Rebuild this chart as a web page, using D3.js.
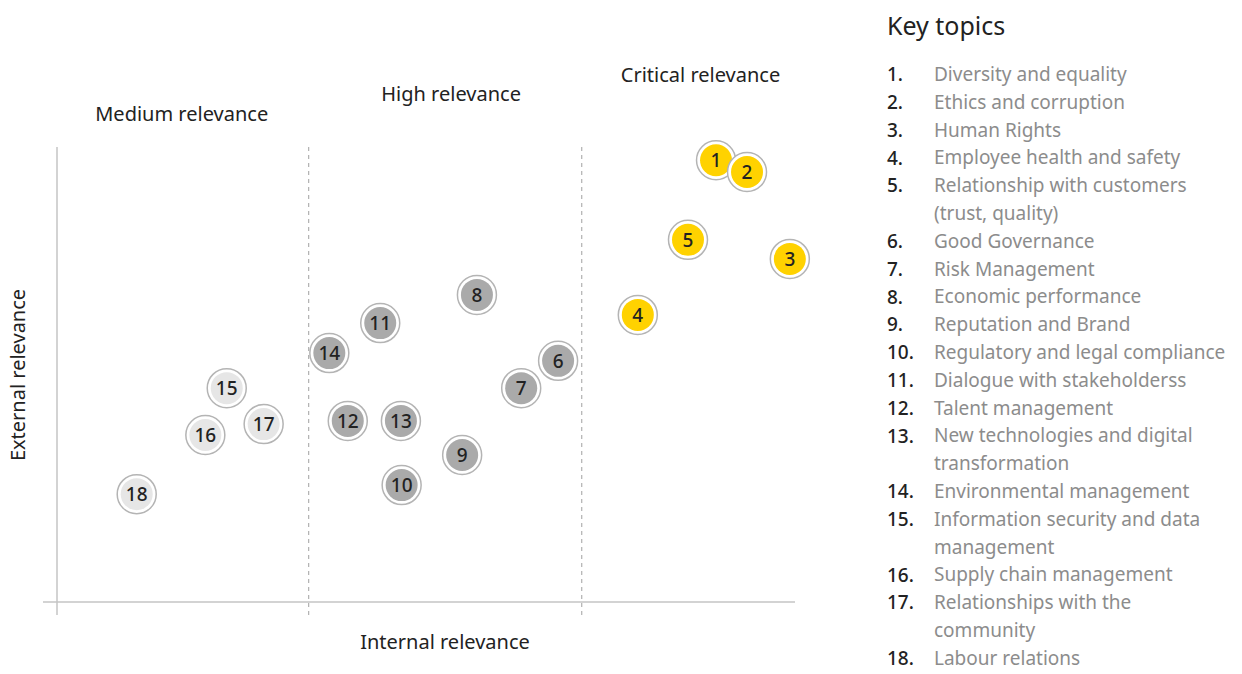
<!DOCTYPE html>
<html>
<head>
<meta charset="utf-8">
<title>Materiality matrix</title>
<script src="https://cdn.jsdelivr.net/npm/d3@7"></script>
<style>
  body { margin: 0; background: #fff; font-family: "Noto Sans", Roboto, sans-serif; overflow: hidden; }
  svg { display: block; }
</style>
</head>
<body>
<svg id="chart" width="1242" height="674"></svg>
<script>
// topic numbers, internal (x) and external (y) relevance (0-100)
var topicIds   = [1, 2, 3, 4, 5, 6, 7, 8, 9, 10, 11, 12, 13, 14, 15, 16, 17, 18];
var internal   = [89.3, 93.5, 99.3, 78.7, 85.5, 67.9, 62.9, 56.9, 54.9, 46.7, 43.8, 39.4, 46.6, 36.9, 23.0, 20.1, 28.0, 10.8];
var external   = [97.1, 94.5, 75.4, 63.1, 79.6, 53.0, 47.0, 67.5, 32.3, 25.7, 61.3, 39.8, 39.8, 54.7, 47.0, 36.7, 39.1, 23.7];
var tier       = ["critical", "critical", "critical", "critical", "critical",
                  "high", "high", "high", "high", "high", "high", "high", "high", "high",
                  "medium", "medium", "medium", "medium"];

// zone boundaries on internal relevance and zone titles
var dividers   = [34.1, 71.1];
var zoneNames  = ["Medium relevance", "High relevance", "Critical relevance"];
var zoneCenter = [16.9, 53.4, 87.2];
var zoneTitleY = [107, 111.2, 115.4];

var topicLines = [
  ["Diversity and equality"],
  ["Ethics and corruption"],
  ["Human Rights"],
  ["Employee health and safety"],
  ["Relationship with customers", "(trust, quality)"],
  ["Good Governance"],
  ["Risk Management"],
  ["Economic performance"],
  ["Reputation and Brand"],
  ["Regulatory and legal compliance"],
  ["Dialogue with stakeholderss"],
  ["Talent management"],
  ["New technologies and digital", "transformation"],
  ["Environmental management"],
  ["Information security and data", "management"],
  ["Supply chain management"],
  ["Relationships with the", "community"],
  ["Labour relations"]
];

var tierColor = { critical: "#ffd200", high: "#aaaaaa", medium: "#e6e6e6" };

var svg = d3.select("#chart");

var x = d3.scaleLinear().domain([0, 100]).range([57, 795]);
var y = d3.scaleLinear().domain([0, 100]).range([602, 147]);

// axes
svg.append("line")
  .attr("x1", x(0)).attr("x2", x(0))
  .attr("y1", y(100)).attr("y2", 615)
  .attr("stroke", "#c4c4c4").attr("stroke-width", 1.5);
svg.append("line")
  .attr("x1", 43).attr("x2", x(100))
  .attr("y1", y(0)).attr("y2", y(0))
  .attr("stroke", "#c4c4c4").attr("stroke-width", 1.5);

// dashed zone dividers
svg.selectAll(".divider")
  .data(dividers)
  .enter().append("line")
  .attr("class", "divider")
  .attr("x1", function(d) { return x(d); })
  .attr("x2", function(d) { return x(d); })
  .attr("y1", y(100)).attr("y2", 615)
  .attr("stroke", "#b0b0b0")
  .attr("stroke-width", 1.2)
  .attr("stroke-dasharray", "4,4");

// zone titles
svg.selectAll(".zone")
  .data(zoneNames)
  .enter().append("text")
  .attr("class", "zone")
  .attr("x", function(d, i) { return x(zoneCenter[i]); })
  .attr("y", function(d, i) { return y(zoneTitleY[i]); })
  .attr("text-anchor", "middle")
  .attr("dominant-baseline", "middle")
  .style("font-size", "20px")
  .style("fill", "#222")
  .text(function(d) { return d; });

// axis titles
svg.append("text")
  .attr("x", 445).attr("y", 649)
  .attr("text-anchor", "middle")
  .style("font-size", "20px").style("fill", "#222")
  .text("Internal relevance");
svg.append("text")
  .attr("transform", "translate(25," + 375 + ") rotate(-90)")
  .attr("text-anchor", "middle")
  .style("font-size", "20px").style("fill", "#222")
  .text("External relevance");

// bubbles
var bubbles = svg.selectAll(".bubble")
  .data(topicIds)
  .enter().append("g")
  .attr("class", "bubble")
  .attr("transform", function(d, i) { return "translate(" + x(internal[i]) + "," + y(external[i]) + ")"; });

bubbles.append("circle")
  .attr("r", 19.5)
  .attr("fill", "#fff")
  .attr("stroke", "#b4b4b4")
  .attr("stroke-width", 1.5);
bubbles.append("circle")
  .attr("r", 16)
  .attr("fill", function(d, i) { return tierColor[tier[i]]; });
bubbles.append("text")
  .attr("text-anchor", "middle")
  .attr("dy", "0.36em")
  .style("font-size", "19px")
  .style("font-weight", 500)
  .style("fill", "#222")
  .text(function(d) { return d; });

// legend
var lx = 887, ly = 76, lineH = 27.8;
svg.append("text")
  .attr("x", lx).attr("y", 35)
  .style("font-size", "25px").style("fill", "#222")
  .text("Key topics");

var row = 0;
topicIds.forEach(function(id, i) {
  svg.append("text")
    .attr("x", lx).attr("y", ly + row * lineH)
    .attr("dominant-baseline", "middle")
    .style("font-size", "19px").style("font-weight", 500).style("fill", "#222")
    .text(id + ".");
  topicLines[i].forEach(function(line) {
    svg.append("text")
      .attr("x", 934).attr("y", ly + row * lineH)
      .attr("dominant-baseline", "middle")
      .style("font-size", "19px").style("fill", "#8c8c8c")
      .text(line);
    row++;
  });
});
</script>
</body>
</html>
